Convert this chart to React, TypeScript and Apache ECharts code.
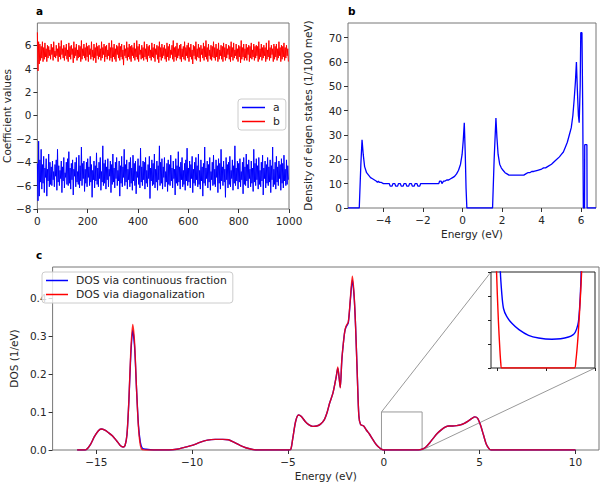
import React, { useEffect, useRef } from "react";
import * as echarts from "echarts";

// ---------- Panel a: recursion coefficients (sampled every 2.5 iterations) ----------
const iterStep = 2.5;
const coeffA = [
  -4.1,-7.3,-2.2,-6.9,-3.8,-5.7,-2.9,-6.3,-4.2,-5.8,
  -3.5,-6.6,-4.5,-5.3,-3.7,-6.9,-4.6,-5.6,-3.3,-6.1,
  -4.0,-5.9,-4.4,-6.0,-3.9,-5.5,-4.8,-6.1,-4.2,-5.2,
  -3.8,-6.4,-2.9,-5.7,-4.3,-6.0,-4.7,-5.4,-3.9,-6.6,
  -4.4,-5.6,-3.6,-6.2,-4.9,-5.3,-4.0,-5.9,-3.7,-6.0,
  -3.1,-5.8,-4.5,-6.3,-4.1,-5.5,-3.8,-6.8,-4.6,-5.2,
  -4.0,-6.1,-3.6,-5.7,-4.8,-5.9,-3.4,-6.2,-4.3,-5.6,
  -2.7,-6.0,-4.1,-5.4,-3.9,-6.5,-4.6,-5.8,-4.0,-6.1,
  -3.7,-5.3,-4.4,-6.0,-3.5,-5.7,-4.2,-7.0,-4.7,-5.5,
  -3.9,-6.2,-4.3,-5.6,-3.2,-5.9,-4.5,-6.1,-4.0,-5.4,
  -3.6,-6.4,-4.8,-5.7,-2.6,-6.0,-4.1,-5.8,-3.8,-6.3,
  -4.4,-5.5,-3.7,-6.1,-4.6,-5.2,-3.9,-6.6,-4.2,-5.9,
  -3.3,-5.7,-4.5,-6.2,-4.0,-5.4,-3.6,-6.0,-4.7,-5.6,
  -3.9,-6.9,-4.3,-5.8,-3.5,-6.1,-4.4,-5.3,-2.9,-6.0,
  -4.2,-5.7,-3.8,-6.3,-4.6,-5.5,-4.0,-6.1,-3.6,-5.8,
  -4.5,-6.4,-3.4,-5.6,-4.1,-6.0,-3.9,-6.7,-4.8,-5.3,
  -3.7,-5.9,-4.3,-6.2,-2.8,-5.7,-4.4,-6.0,-3.9,-5.5,
  -4.0,-6.3,-3.6,-5.8,-4.7,-6.1,-4.2,-5.4,-3.5,-7.1,
  -4.5,-5.6,-3.8,-6.0,-4.1,-5.9,-3.3,-6.2,-4.6,-5.7,
  -3.9,-6.4,-4.3,-5.5,-2.6,-6.0,-4.0,-5.8,-3.7,-6.3,
  -4.4,-5.3,-3.6,-6.1,-4.8,-5.7,-4.1,-6.5,-3.8,-5.9,
  -4.2,-6.0,-3.4,-5.6,-4.5,-6.2,-3.9,-5.4,-4.6,-6.8,
  -3.7,-5.8,-4.3,-6.0,-3.1,-5.7,-4.4,-6.3,-4.0,-5.5,
  -3.6,-6.1,-4.7,-5.9,-4.1,-6.4,-3.8,-5.6,-2.8,-6.0,
  -4.5,-5.7,-3.9,-6.2,-4.2,-5.4,-3.5,-6.6,-4.6,-5.8,
  -4.0,-6.0,-3.6,-5.5,-4.3,-6.1,-3.3,-5.9,-4.7,-6.3,
  -3.8,-5.6,-4.4,-6.9,-4.1,-5.8,-2.7,-6.0,-4.5,-5.4,
  -3.9,-6.2,-4.2,-5.7,-3.6,-6.4,-4.8,-5.5,-4.0,-6.0,
  -3.4,-5.9,-4.6,-6.1,-3.8,-5.3,-4.3,-6.6,-3.7,-5.8,
  -4.1,-6.3,-2.9,-5.6,-4.4,-6.0,-3.9,-5.7,-4.6,-7.0,
  -3.6,-5.5,-4.2,-6.2,-4.0,-5.9,-3.5,-6.1,-4.7,-5.4,
  -3.8,-6.4,-4.3,-5.8,-2.6,-6.0,-4.5,-5.6,-3.9,-6.3,
  -4.1,-5.7,-3.7,-6.1,-4.8,-5.5,-4.0,-6.7,-3.6,-5.9,
  -4.4,-6.0,-3.3,-5.6,-4.2,-6.2,-3.8,-5.4,-4.6,-6.1,
  -3.9,-5.8,-4.5,-6.5,-2.9,-5.7,-4.1,-6.0,-3.7,-5.5,
  -4.3,-6.3,-3.6,-5.9,-4.7,-6.1,-4.0,-5.6,-3.4,-6.8,
  -4.5,-5.4,-3.9,-6.2,-4.2,-5.8,-3.6,-6.0,-4.4,-5.7,
  -3.8,-6.6,-4.3,-5.5,-2.7,-6.1,-4.6,-5.9,-4.0,-6.3,
  -3.5,-5.7,-4.4,-6.0,-3.9,-5.4,-4.2,-6.4,-3.7,-5.8,
  -4.1,-6.2,-3.4,-5.6,-4.6,-6.0,-3.8,-5.9,-4.3,-5.5,
];
const coeffB = [
  7.1,3.8,6.3,4.4,6.1,4.7,5.9,4.9,6.3,4.6,
  5.8,4.8,6.2,5.0,5.7,4.6,6.0,4.9,5.9,5.1,
  5.6,4.8,6.1,5.2,5.8,4.7,6.3,5.0,5.5,4.9,
  6.0,5.1,5.7,4.6,6.2,5.0,5.9,4.8,6.4,5.2,
  5.7,4.9,6.0,4.7,5.8,5.1,6.1,4.8,5.6,4.6,
  6.2,5.0,5.9,4.8,6.0,5.2,5.7,4.5,6.3,4.9,
  5.8,5.1,6.1,4.7,5.6,4.9,6.0,5.0,5.9,4.6,
  6.4,4.8,5.7,5.1,6.1,4.9,5.8,4.7,6.2,5.0,
  5.9,4.6,6.0,5.2,5.7,4.8,6.3,5.0,5.6,4.7,
  6.1,4.9,5.8,4.5,6.2,5.1,5.9,4.8,6.0,5.0,
  5.7,4.7,6.3,4.9,5.8,5.2,6.1,4.6,5.9,5.0,
  6.0,4.8,5.6,5.1,6.2,4.7,5.8,4.9,6.4,4.6,
  5.8,5.0,6.1,4.8,5.7,4.6,6.0,5.2,5.9,4.9,
  6.2,4.7,5.9,5.0,6.1,4.8,5.6,4.3,6.0,5.1,
  5.7,4.9,6.3,4.7,5.8,5.0,6.1,4.8,5.9,4.6,
  6.0,5.1,5.8,4.9,6.2,4.7,5.7,5.0,6.4,4.8,
  5.9,4.6,6.1,5.2,5.6,4.8,6.0,4.9,5.8,4.7,
  6.3,5.0,5.7,4.8,6.1,4.6,5.9,5.1,6.0,4.9,
  5.6,4.7,6.2,5.0,5.8,4.9,6.1,4.6,5.7,5.2,
  6.0,4.8,5.9,4.5,6.3,5.0,5.8,4.7,6.1,4.9,
  5.8,5.1,6.0,4.8,5.7,4.6,6.2,5.0,5.9,4.7,
  6.1,4.9,5.6,5.2,6.0,4.8,6.4,4.6,5.8,5.0,
  5.9,4.7,6.2,4.9,5.7,5.1,6.0,4.8,6.1,4.6,
  5.7,5.0,5.9,4.8,6.3,4.7,5.8,5.1,6.0,4.9,
  6.2,4.6,5.8,5.0,6.1,4.8,5.6,4.4,6.0,5.1,
  5.9,4.8,6.3,4.7,5.7,5.0,6.1,4.9,5.8,4.6,
  6.0,5.2,5.7,4.9,6.2,4.7,5.9,5.0,6.4,4.8,
  5.8,4.6,6.1,5.1,5.6,4.8,6.0,4.7,5.9,5.0,
  6.3,4.9,5.8,4.7,6.1,5.0,5.7,4.6,6.2,4.8,
  5.6,5.1,6.0,4.8,5.9,4.6,6.2,5.0,5.8,4.7,
  6.1,4.9,5.7,5.2,6.0,4.8,5.9,4.6,6.3,5.0,
  5.8,4.7,6.2,4.9,5.6,5.1,6.1,4.8,5.7,4.6,
  6.0,5.0,5.9,4.5,6.4,4.8,5.8,5.0,6.1,4.7,
  5.7,4.9,6.1,4.7,5.8,5.2,6.0,4.6,5.9,4.9,
  6.2,4.8,5.6,5.0,6.1,4.7,5.9,4.9,6.0,5.1,
  5.9,4.6,6.3,4.8,5.7,5.0,6.1,4.7,5.8,4.9,
  6.0,5.1,5.8,4.6,6.2,4.8,5.6,5.0,6.4,4.7,
  5.8,4.9,6.0,5.2,5.7,4.6,6.1,4.8,5.9,5.0,
  6.1,4.7,5.7,4.9,6.3,5.1,5.8,4.6,6.0,4.8,
  5.9,5.0,6.2,4.7,5.8,4.9,6.0,5.1,5.7,4.6,
];
const aTicksX = [0, 200, 400, 600, 800, 1000];
const aTicksY = [-8, -6, -4, -2, 0, 2, 4, 6];

// ---------- Panel b: density of eigen states ----------
const energyB = [
  -5.79,-5.22,-5.14,-5.08,-5.02,-4.95,-4.85,-4.75,-4.65,-4.55,-4.45,-4.35,-4.3,-4.25,-4.2,-4.1,-4.0,
  -3.7,-3.66,-3.56,-3.52,-3.42,-3.38,-3.28,-3.24,-3.14,-3.1,-3.0,-2.96,-2.86,-2.82,-2.72,-2.68,-2.58,-2.54,-2.44,-2.4,-2.3,-2.26,-2.16,-2.12,
  -1.2,-1.16,-1.08,-1.04,-0.96,-0.9,-0.8,-0.7,-0.6,-0.5,-0.4,-0.3,-0.2,-0.1,-0.02,0.04,0.09,0.14,0.18,0.22,
  1.52,1.6,1.69,1.74,1.8,1.88,1.96,2.05,2.15,2.25,2.35,2.5,2.7,2.9,3.1,3.2,3.3,3.4,3.5,3.6,3.8,4.0,4.1,4.2,4.3,4.5,4.7,4.9,5.0,5.1,5.2,5.3,5.4,5.5,5.58,5.65,5.71,5.76,5.81,5.86,5.9,5.95,5.98,6.04,6.08,6.11,6.17,6.18,6.29,6.3,6.75,
];
const dosB = [
  0,0,18,28,22,17,14.5,13.5,12.5,12,11.5,11,10.5,11,10.5,10.5,10,
  10,9,9,10,10,9,9,10,10,9,9,10,10,9,9,10,10,9,9,10,10,9,9,10,
  10,11,11,10,11,11,11.5,11.5,12,12.5,13,14,15.5,18,22,28,35,22,8,0,
  0,20,37,29,22,18,16.5,15.5,14.5,14,13.5,13.5,13.5,13.5,13.5,14,14.5,14.5,15,15,15.5,16,16.5,16.5,17,18,19.5,21,22,23,25,27,30,33,38,45,52,60,48,38,35,50,72,72,40,0,0,26,26,0,0,
];
const bTicksX = [-4, -2, 0, 2, 4, 6];
const bTicksY = [0, 10, 20, 30, 40, 50, 60, 70];

// ---------- Panel c: DOS ----------
const energyC = [
  -16.0,-15.6,-15.5,-15.3,-15.1,-14.9,-14.75,-14.55,-14.35,-14.15,-13.95,-13.75,-13.6,-13.5,-13.4,-13.3,-13.2,-13.1,-13.0,-12.9,-12.8,-12.7,-12.6,-12.4,-12.0,
  -11.2,-10.8,-10.4,-10.0,-9.6,-9.2,-8.8,-8.4,-8.1,-7.8,-7.5,-7.2,-6.9,-6.6,
  -5.0,-4.85,-4.75,-4.6,-4.45,-4.3,-4.1,-3.9,-3.7,-3.5,-3.3,-3.1,-2.95,-2.82,-2.65,-2.48,-2.4,-2.33,-2.27,-2.19,-2.11,-2.04,-1.97,-1.85,-1.75,-1.64,-1.55,-1.47,-1.38,-1.3,-1.21,-1.05,-0.9,-0.75,-0.6,-0.45,-0.3,-0.15,0.0,
  1.8,2.0,2.2,2.4,2.6,2.8,3.0,3.2,3.4,3.6,3.8,4.0,4.2,4.4,4.6,4.75,4.9,5.05,5.2,5.35,5.5,5.6,10.0,
];
const dosDiag = [
  0,0,0.002,0.015,0.035,0.05,0.055,0.052,0.045,0.037,0.025,0.012,0.008,0.012,0.04,0.13,0.26,0.33,0.28,0.16,0.06,0.012,0.001,0,0,
  0,0.002,0.007,0.012,0.02,0.026,0.028,0.028,0.027,0.02,0.012,0.006,0.002,0,
  0,0.002,0.03,0.075,0.092,0.088,0.075,0.066,0.062,0.063,0.068,0.08,0.1,0.124,0.15,0.193,0.218,0.19,0.163,0.237,0.28,0.31,0.325,0.337,0.394,0.457,0.41,0.324,0.193,0.089,0.067,0.063,0.052,0.042,0.03,0.018,0.009,0.003,0,
  0,0.002,0.008,0.019,0.032,0.044,0.053,0.06,0.063,0.063,0.064,0.066,0.07,0.076,0.083,0.087,0.083,0.065,0.04,0.015,0.003,0,0,
];
const dosCF = [
  0,0,0.002,0.015,0.035,0.05,0.055,0.052,0.045,0.037,0.025,0.012,0.008,0.012,0.04,0.128,0.25,0.315,0.27,0.16,0.065,0.02,0.005,0.002,0,
  0,0.002,0.007,0.012,0.02,0.026,0.028,0.028,0.027,0.02,0.012,0.006,0.002,0,
  0,0.002,0.03,0.075,0.092,0.088,0.075,0.066,0.062,0.063,0.068,0.08,0.1,0.124,0.15,0.193,0.215,0.19,0.165,0.235,0.28,0.31,0.323,0.335,0.39,0.447,0.405,0.324,0.195,0.09,0.067,0.063,0.052,0.042,0.03,0.018,0.009,0.003,0,
  0,0.002,0.008,0.019,0.032,0.044,0.053,0.06,0.063,0.063,0.064,0.066,0.07,0.076,0.083,0.087,0.083,0.065,0.04,0.015,0.003,0,0,
];
const cTicksX = [-15, -10, -5, 0, 5, 10];
const cTicksY = [0, 0.1, 0.2, 0.3, 0.4];

// zoom window (main axes) and inset (arbitrary small units)
const zoomX = [-0.12, 2.0];
const zoomY = [0, 0.1];
const insetY = [0, 4];
const insetTicksX = [0, 1, 2];
const insetTicksY = [0, 1, 2, 3, 4];
const insetEnergyCF = [0.02,0.067,0.1,0.135,0.2,0.31,0.45,0.645,0.85,1.12,1.3,1.46,1.55,1.6,1.65,1.67,1.7,1.72,1.75];
const insetCF = [9,4.2,3.1,2.48,2.15,1.85,1.6,1.36,1.25,1.2,1.22,1.29,1.38,1.5,1.8,2.06,3,4.2,8];
const insetEnergyDiag = [-0.05,-0.01,0.03,0.06,0.08,0.1,1.58,1.61,1.65,1.69,1.73,1.76];
const insetDiag = [8,4.2,2.0,0.8,0.2,0,0,0.3,1.2,2.5,4.2,8];

const BLUE = "#0000ff";
const RED = "#ff0000";
const TXT = "#262626";
const FONT = "DejaVu Sans";
const minus = (v: number, d = 0) => (d ? v.toFixed(d) : String(v)).replace("-", "\u2212");

function axis(grid: number, min: number, max: number, ticks: number[], fmt: (v: number) => string, extra: any = {}) {
  return {
    type: "value",
    gridIndex: grid,
    min,
    max,
    axisLine: { show: false, onZero: false },
    splitLine: { show: false },
    axisTick: { show: true, length: 4, customValues: ticks, lineStyle: { color: "#333", width: 1 } },
    axisLabel: { show: true, customValues: ticks, formatter: fmt, color: TXT, fontSize: 10.5, fontFamily: FONT, margin: 6 },
    nameLocation: "middle",
    nameTextStyle: { color: TXT, fontSize: 10.5, fontFamily: FONT },
    ...extra,
  };
}

export default function App() {
  const ref = useRef<HTMLDivElement>(null);
  useEffect(() => {
    if (!ref.current) return;
    const chart = echarts.init(ref.current, undefined, { renderer: "svg" });
    const pairs = (xs: number[], ys: number[]) => xs.map((x, i) => [x, ys[i]]);
    const seqPairs = (ys: number[]) => ys.map((y, i) => [i * iterStep, y]);
    const gridStyle = { show: true, borderColor: "#777", borderWidth: 1, backgroundColor: "transparent", containLabel: false };
    const legendBase = {
      orient: "vertical",
      padding: [3, 6, 3, 4],
      itemGap: 3,
      itemWidth: 22,
      itemHeight: 1.5,
      icon: "rect",
      borderColor: "#ccc",
      borderWidth: 1,
      borderRadius: 3,
      backgroundColor: "rgba(255,255,255,0.8)",
      textStyle: { color: TXT, fontSize: 10.8, fontFamily: FONT, padding: [0, 0, 0, 3] },
      selectedMode: false,
    };
    const option: any = {
      animation: false,
      backgroundColor: "#fff",
      textStyle: { fontFamily: FONT },
      grid: [
        { left: 36, top: 23, width: 253, height: 186, ...gridStyle },
        { left: 348, top: 23, width: 248, height: 185, ...gridStyle },
        { left: 36, top: 267, width: 563, height: 184, ...gridStyle },
        { left: 491, top: 272, width: 104, height: 96, show: true, borderColor: "#222", borderWidth: 1, backgroundColor: "#fff", z: 5 },
      ],
      xAxis: [
        axis(0, 0, 1000, aTicksX, (v) => minus(v), {}),
        axis(1, -5.79, 6.75, bTicksX, (v) => minus(v), { name: "Energy (eV)", nameGap: 20 }),
        axis(2, -17.28, 11.23, cTicksX, (v) => minus(v), { name: "Energy (eV)", nameGap: 20 }),
        {
          ...axis(3, zoomX[0], zoomX[1], insetTicksX, () => ""),
          axisLabel: { show: false },
          axisTick: { show: true, length: 3, customValues: insetTicksX, lineStyle: { color: "#222" } },
          z: 5,
        },
      ],
      yAxis: [
        axis(0, -8, 7.9, aTicksY, (v) => minus(v), { name: "Coefficient values", nameGap: 25 }),
        axis(1, 0, 76, bTicksY, (v) => minus(v), { name: "Density of eigen states (1/100 meV)", nameGap: 35 }),
        axis(2, 0, 0.481, cTicksY, (v) => minus(v, 1), { name: "DOS (1/eV)", nameGap: 30 }),
        {
          ...axis(3, insetY[0], insetY[1], insetTicksY, () => ""),
          axisLabel: { show: false },
          axisTick: { show: true, length: 3, customValues: insetTicksY, lineStyle: { color: "#222" } },
          z: 5,
        },
      ],
      legend: [
        { ...legendBase, data: ["a", "b"], left: 238, top: 99, itemWidth: 23 },
        { ...legendBase, data: ["DOS via continuous fraction", "DOS via diagonalization"], left: 42, top: 272 },
      ],
      series: [
        { name: "a", type: "line", xAxisIndex: 0, yAxisIndex: 0, data: seqPairs(coeffA), showSymbol: false, color: BLUE, lineStyle: { width: 1, color: BLUE } },
        { name: "b", type: "line", xAxisIndex: 0, yAxisIndex: 0, data: seqPairs(coeffB), showSymbol: false, color: RED, lineStyle: { width: 1, color: RED } },
        { name: "dosB", type: "line", xAxisIndex: 1, yAxisIndex: 1, data: pairs(energyB, dosB), showSymbol: false, color: BLUE, lineStyle: { width: 1.3, color: BLUE } },
        { name: "zoomBox", type: "line", xAxisIndex: 2, yAxisIndex: 2, silent: true, showSymbol: false, color: "#999",
          data: [[zoomX[0], zoomY[0]], [zoomX[0], zoomY[1]], [zoomX[1], zoomY[1]], [zoomX[1], zoomY[0]]],
          lineStyle: { width: 1, color: "#999" }, z: 1 },
        { name: "DOS via continuous fraction", type: "line", xAxisIndex: 2, yAxisIndex: 2, data: pairs(energyC, dosCF), showSymbol: false, smooth: 0.25, color: BLUE, lineStyle: { width: 1.4, color: BLUE } },
        { name: "DOS via diagonalization", type: "line", xAxisIndex: 2, yAxisIndex: 2, data: pairs(energyC, dosDiag), showSymbol: false, smooth: 0.25, color: RED, lineStyle: { width: 1.4, color: RED, opacity: 0.85 } },
        { name: "DOS via continuous fraction", type: "line", xAxisIndex: 3, yAxisIndex: 3, data: pairs(insetEnergyCF, insetCF), showSymbol: false, smooth: 0.3, color: BLUE, lineStyle: { width: 1.4, color: BLUE }, z: 6, clip: true },
        { name: "DOS via diagonalization", type: "line", xAxisIndex: 3, yAxisIndex: 3, data: pairs(insetEnergyDiag, insetDiag), showSymbol: false, smooth: 0.3, color: RED, lineStyle: { width: 1.4, color: RED }, z: 6, clip: true },
      ],
    };
    chart.setOption(option);

    const p1 = chart.convertToPixel({ xAxisIndex: 2, yAxisIndex: 2 } as any, [zoomX[0], zoomY[1]]) as number[];
    const p2 = chart.convertToPixel({ xAxisIndex: 2, yAxisIndex: 2 } as any, [zoomX[1], zoomY[0]]) as number[];
    const q1 = chart.convertToPixel({ xAxisIndex: 3, yAxisIndex: 3 } as any, [zoomX[0], insetY[1]]) as number[];
    const q2 = chart.convertToPixel({ xAxisIndex: 3, yAxisIndex: 3 } as any, [zoomX[1], insetY[0]]) as number[];
    const titleStyle = { fill: "#000", font: `bold 10.5px "${FONT}"` };
    chart.setOption({
      graphic: [
        { type: "text", left: 36, top: 5, style: { text: "a", ...titleStyle } },
        { type: "text", left: 348, top: 5, style: { text: "b", ...titleStyle } },
        { type: "text", left: 36, top: 249, style: { text: "c", ...titleStyle } },
        { type: "line", shape: { x1: p1[0], y1: p1[1], x2: q1[0], y2: q1[1] }, style: { stroke: "#999", lineWidth: 1 }, z: 1 },
        { type: "line", shape: { x1: p2[0], y1: p2[1], x2: q2[0], y2: q2[1] }, style: { stroke: "#999", lineWidth: 1 }, z: 1 },
      ],
    });
    return () => chart.dispose();
  }, []);
  return <div ref={ref} style={{ position: "fixed", left: 0, top: 0, width: 605, height: 482 }} />;
}
